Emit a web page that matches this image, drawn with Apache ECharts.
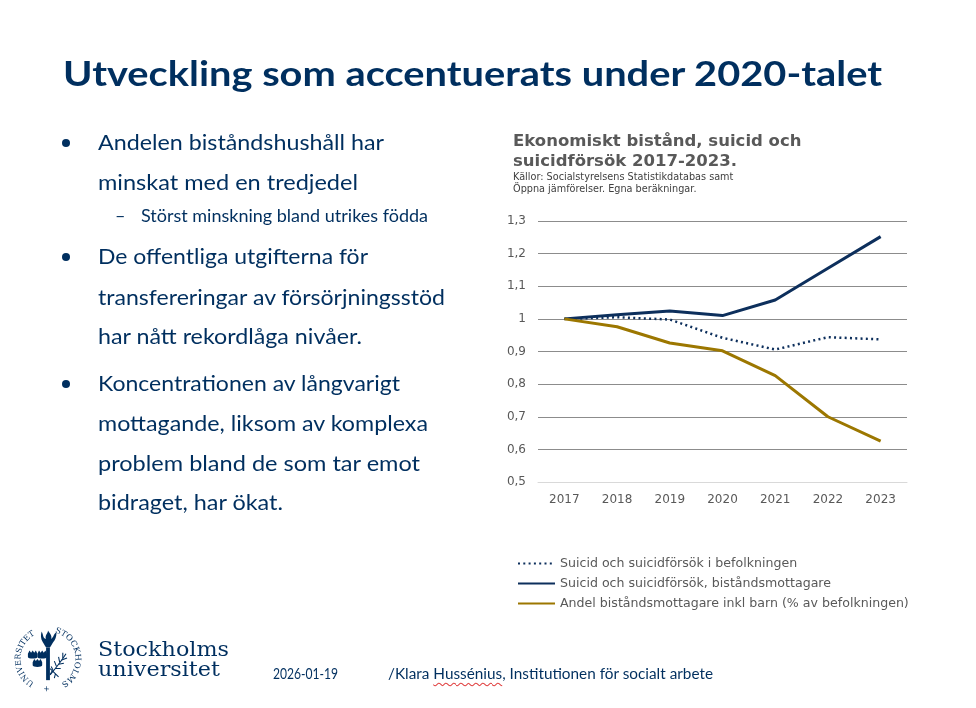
<!DOCTYPE html>
<html>
<head>
<meta charset="utf-8">
<script src="https://cdn.jsdelivr.net/npm/echarts@6.0.0/dist/echarts.min.js"></script>
<style>
    html, body {margin: 0; padding: 0; background: #fff;}
    body {width: 976px; height: 708px; position: relative; overflow: hidden;}
    #chart {position: absolute; left: 0; top: 0; width: 976px; height: 708px;}
    .t {position: absolute; white-space: nowrap; color: #002f5f; font-family: Lato, "Open Sans", sans-serif; line-height: 1.2; transform-origin: 0 0;}
    .b {font-size: 21.5px;}
    .dot {position: absolute; width: 8px; height: 8px; border-radius: 50%; background: #002f5f;}
    .serif {font-family: "DejaVu Serif", serif; line-height: 1.164;}
    .spell {text-decoration: underline wavy #e04040; text-decoration-thickness: 1px; text-underline-offset: 3px;}
</style>
</head>
<body>
<div id="chart"></div>

<div class="t" data-w="819" style="left:63px;top:50.5px;font-size:35px;font-weight:bold;">Utveckling som accentuerats under 2020-talet</div>

<div class="dot" style="left:62px;top:139px;"></div>
<div class="t b" data-w="286" style="left:98px;top:129.5px;">Andelen biståndshushåll har</div>
<div class="t b" data-w="260" style="left:98px;top:169.5px;">minskat med en tredjedel</div>
<div class="t" style="left:115px;top:205px;font-size:18px;">–</div>
<div class="t" data-w="287" style="left:141px;top:205px;font-size:18px;">Störst minskning bland utrikes födda</div>

<div class="dot" style="left:62px;top:253px;"></div>
<div class="t b" data-w="270" style="left:98px;top:244px;">De offentliga utgifterna för</div>
<div class="t b" data-w="347" style="left:98px;top:284.5px;">transfereringar av försörjningsstöd</div>
<div class="t b" data-w="264" style="left:98px;top:323.5px;">har nått rekordlåga nivåer.</div>

<div class="dot" style="left:62px;top:380px;"></div>
<div class="t b" data-w="302" style="left:98px;top:371px;">Koncentrationen av långvarigt</div>
<div class="t b" data-w="330" style="left:98px;top:411px;">mottagande, liksom av komplexa</div>
<div class="t b" data-w="322" style="left:98px;top:451px;">problem bland de som tar emot</div>
<div class="t b" data-w="185" style="left:98px;top:489.5px;">bidraget, har ökat.</div>

<!-- logo -->
<svg style="position:absolute;left:11px;top:622px;" width="74" height="74" viewBox="0 0 70 70">
    <defs>
        <path id="ring" d="M 22 57.52 A 26 26 0 1 1 48 12.48 A 26 26 0 1 1 22 57.52"/>
    </defs>
    <g fill="#002f5f" font-family="DejaVu Serif, serif" font-size="7.5">
        <text><textPath href="#ring" startOffset="0" textLength="55" lengthAdjust="spacingAndGlyphs">UNIVERSITET</textPath></text>
        <text><textPath href="#ring" startOffset="74" textLength="62" lengthAdjust="spacingAndGlyphs">STOCKHOLMS</textPath></text>
        <text><textPath href="#ring" startOffset="147">+</textPath></text>
    </g>
    <g fill="#002f5f" stroke="none">
        <path d="M29 9 C31 13 30 15 33 16 C32 12 35 11 35 8 C37 11 39 13 38 16 C41 14 40 11 43 10 C43 14 42 17 40 19 L30 19 C28 16 28 12 29 9 Z"/>
        <path d="M30 19 L40 19 L37 24 L33 24 Z"/>
        <rect x="33.2" y="24" width="3.6" height="31"/>
        <path d="M16 30 l1.5 -3 l1.5 2 l1.5 -2 l1.5 2 l1.5 -2 l1.5 3 v3 c0 2 -9 2 -9 0 z"/>
        <path d="M25 30 l1.5 -3 l1.5 2 l1.5 -2 l1.5 2 l1.5 -2 l1.5 3 v3 c0 2 -9 2 -9 0 z"/>
        <path d="M20.5 38 l1.5 -3 l1.5 2 l1.5 -2 l1.5 2 l1.5 -2 l1.5 3 v3 c0 2 -9 2 -9 0 z"/>
    </g>
    <g stroke="#002f5f" stroke-width="1" fill="none">
        <path d="M37 50 C42 44 47 38 52 30"/>
        <path d="M40 46 l-2 -4 M43 42 l-2 -5 M46 38 l-1 -5 M49 34 l0 -5 M42 44 l5 0 M45 40 l5 -1 M48 36 l5 -2"/>
        <path d="M37 44 l8 8 M39 46 l-2 4 M42 49 l-1 4"/>
    </g>
</svg>
<div class="t serif" data-w="131" style="left:98px;top:638px;font-size:20px;">Stockholms</div>
<div class="t serif" data-w="122" style="left:98px;top:658px;font-size:20px;">universitet</div>

<div class="t" data-w="65" style="left:273px;top:665px;font-size:14.5px;">2026-01-19</div>
<div class="t" data-w="325" style="left:388px;top:665px;font-size:14.5px;">/Klara <span class="spell">Hussénius</span>, Institutionen för socialt arbete</div>

<script>
    var years = ['2017', '2018', '2019', '2020', '2021', '2022', '2023'];
    var suicidBefolkning = [1, 1.005, 0.998, 0.942, 0.906, 0.944, 0.937];
    var suicidBistand = [1, 1.013, 1.024, 1.010, 1.058, 1.155, 1.252];
    var andelBistand = [1, 0.976, 0.926, 0.902, 0.826, 0.700, 0.625];
    var yTicks = [0.5, 0.6, 0.7, 0.8, 0.9, 1, 1.1, 1.2, 1.3];

    // stretch slide text lines to the widths of the original
    var lines = document.querySelectorAll('[data-w]');
    for (var i = 0; i < lines.length; i++) {
        var w = lines[i].getBoundingClientRect().width;
        lines[i].style.transform = 'scaleX(' + (lines[i].getAttribute('data-w') / w) + ')';
    }

    var navy = '#0d2f5c',
        gold = '#9c7700',
        grey = '#595959',
        font = '"DejaVu Sans", Verdana, sans-serif';

    var myChart = echarts.init(document.getElementById('chart'));

    // first split line (0,5) is the light axis line, the rest darker
    var splitColors = yTicks.map(function (v, i) {
        return i === 0 ? '#d9d9d9' : '#8c8c8c';
    });

    var option = {
        animation: false,
        title: {
            text: 'Ekonomiskt bistånd, suicid och\nsuicidförsök 2017-2023.',
            subtext: 'Källor: Socialstyrelsens Statistikdatabas samt\nÖppna jämförelser. Egna beräkningar.',
            left: 508,
            top: 127,
            itemGap: 0,
            textStyle: {fontFamily: font, fontSize: 16.5, fontWeight: 'bold', color: grey, lineHeight: 19.5},
            subtextStyle: {fontFamily: font, fontSize: 9.7, color: '#404040', lineHeight: 12}
        },
        legend: {
            orient: 'vertical',
            left: 512,
            top: 552,
            itemWidth: 37,
            itemHeight: 14,
            itemGap: 7,
            itemStyle: {color: 'rgba(0,0,0,0)', borderWidth: 0, opacity: 0},
            textStyle: {fontFamily: font, fontSize: 12.6, color: grey},
            data: [
                'Suicid och suicidförsök i befolkningen',
                'Suicid och suicidförsök, biståndsmottagare',
                'Andel biståndsmottagare inkl barn (% av befolkningen)'
            ]
        },
        grid: {left: 538, right: 69, top: 221, bottom: 226},
        xAxis: {
            type: 'category',
            data: years,
            boundaryGap: true,
            axisLine: {lineStyle: {color: '#d9d9d9'}},
            axisTick: {show: false},
            axisLabel: {fontFamily: font, fontSize: 12, color: grey, margin: 12}
        },
        yAxis: {
            type: 'value',
            min: 0.5,
            max: 1.3,
            interval: 0.1,
            axisLine: {show: false},
            axisTick: {show: false},
            axisLabel: {
                fontFamily: font, fontSize: 12, color: grey, margin: 12,
                formatter: function (v) {
                    return String(Math.round(v * 10) / 10).replace('.', ',');
                }
            },
            splitLine: {lineStyle: {color: splitColors, width: 1}}
        },
        series: [
            {
                name: 'Suicid och suicidförsök i befolkningen',
                type: 'line',
                data: suicidBefolkning,
                symbol: 'none',
                lineStyle: {color: navy, width: 2.5, type: [2, 3.3]},
                itemStyle: {color: navy}
            },
            {
                name: 'Suicid och suicidförsök, biståndsmottagare',
                type: 'line',
                data: suicidBistand,
                symbol: 'none',
                lineStyle: {color: navy, width: 3},
                itemStyle: {color: navy}
            },
            {
                name: 'Andel biståndsmottagare inkl barn (% av befolkningen)',
                type: 'line',
                data: andelBistand,
                symbol: 'none',
                lineStyle: {color: gold, width: 3},
                itemStyle: {color: gold}
            }
        ]
    };

    myChart.setOption(option);
</script>
</body>
</html>
